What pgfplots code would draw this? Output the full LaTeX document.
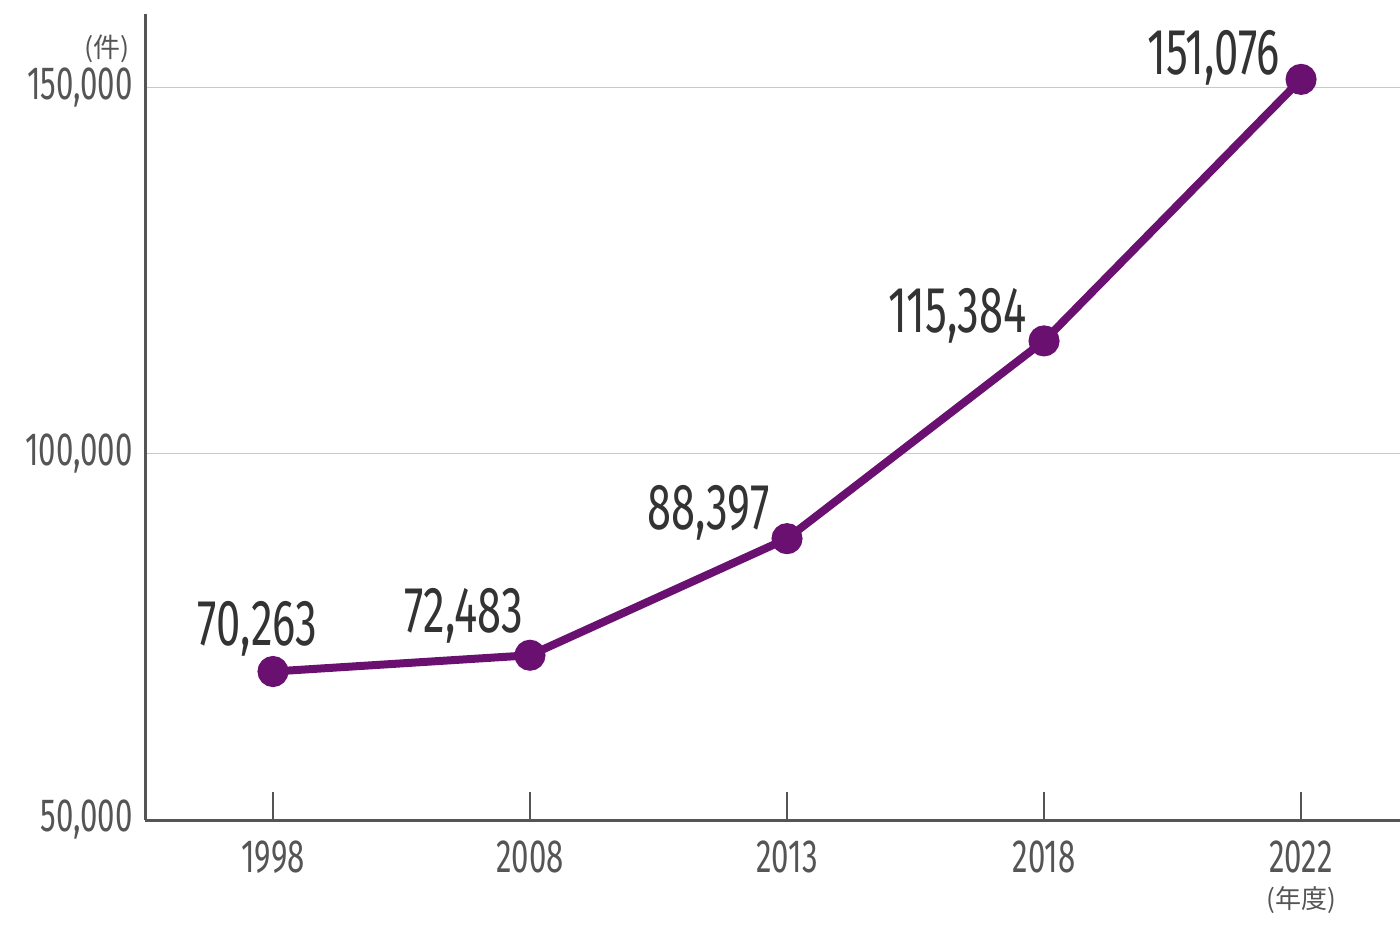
\documentclass[border=0pt]{standalone}
\usepackage{pgfplots}
\pgfplotsset{compat=1.18}
\usepackage{pgfplotstable}
\usepackage{fontspec}
\setmainfont[FakeStretch=0.67]{Fira Sans}
\newfontfamily\cjk{Noto Sans CJK JP}
\definecolor{linepurple}{RGB}{106,16,112}
\definecolor{axisgray}{RGB}{85,85,85}
\definecolor{labeldark}{RGB}{51,51,51}
\definecolor{gridgray}{RGB}{200,200,200}

\pgfplotstableread{
x y dx dy label
0 70263 -7.75 13 70,263
1 72483 -33 11.5 72,483
2 88397 -39.25 4.5 88,397
3 115384 -43.25 4 115,384
4 151076 -43.75 2.5 151,076
}\datatable

\begin{document}
\begin{tikzpicture}
\path[use as bounding box] (-72.5pt,-55pt) rectangle (627.5pt,410pt);
\begin{axis}[
  at={(0,0)}, anchor=south west,
  scale only axis, width=627.5pt, height=403pt,
  xmin=-0.498, xmax=4.385, ymin=50000, ymax=160000,
  axis x line=bottom, axis y line=left,
  axis line style={-, draw=axisgray, line width=1.5pt},
  xtick={0,1,2,3,4},
  xticklabels={1998,2008,2013,2018,{2022\\[-7pt]{\cjk\fontsize{13pt}{14pt}\selectfont (年度)}}},
  x tick label style={font=\fontsize{23.3pt}{25pt}\selectfont, text=axisgray, align=center, inner sep=0pt, yshift=-10pt},
  ytick={50000,100000,150000},
  yticklabels={{50,000},{100,000},{150,000}},
  y tick label style={font=\fontsize{23.3pt}{25pt}\selectfont, text=axisgray, inner sep=0pt, xshift=-6pt},
  tick align=inside,
  major tick length=14pt,
  x tick style={draw=axisgray, line width=0.75pt},
  y tick style={draw=none},
  ymajorgrids,
  grid style={draw=gridgray, line width=0.75pt},
  clip=false,
]
\addplot[linepurple, line width=4pt, mark=*, mark size=5.75pt,
  mark options={fill=linepurple, draw=none},
  nodes near coords, point meta=explicit symbolic,
  visualization depends on={\thisrow{dx} \as \dx},
  visualization depends on={\thisrow{dy} \as \dy},
  nodes near coords style={anchor=base, xshift=\dx pt, yshift=\dy pt,
    font=\fontsize{32.5pt}{34pt}\selectfont, text=labeldark, inner sep=0pt}
] table[x=x, y=y, meta=label] {\datatable};
\node[anchor=east, font=\cjk\fontsize{13.5pt}{14pt}\selectfont, text=axisgray, inner sep=0pt, xshift=-7.5pt] at (rel axis cs:0,0.957) {(件)};
\end{axis}
\end{tikzpicture}
\end{document}
